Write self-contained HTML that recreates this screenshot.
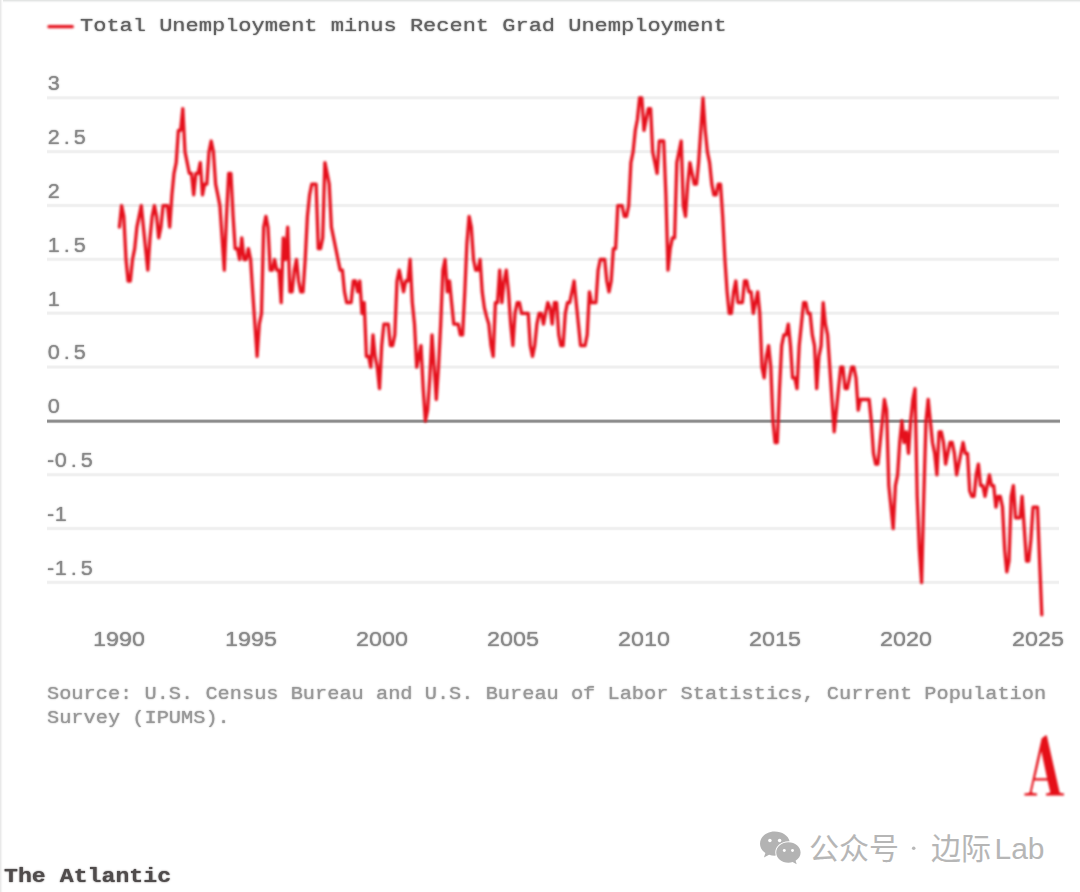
<!DOCTYPE html>
<html><head><meta charset="utf-8"><title>Chart</title>
<style>
html,body{margin:0;padding:0;background:#fff}
body{width:1080px;height:892px;position:relative;overflow:hidden;font-family:"Liberation Mono",monospace}
.bt{position:absolute;left:0;top:0;width:1080px;height:3px;background:linear-gradient(#e3e5e4 0 33.3%,#f1f2f2 33.3% 66.6%,#fcfcfc 66.6% 100%)}
.bl{position:absolute;left:0;top:0;width:3px;height:892px;background:linear-gradient(90deg,#e9e9e9 0 33.3%,#f4f4f4 33.3% 66.6%,#fdfdfd 66.6% 100%)}
.g{position:absolute;left:47px;width:1012px}
.z{position:absolute;left:47px;width:1012.5px}
.lt{position:absolute;left:79.8px;top:13.9px;font-size:18.9px;line-height:25px;color:#626262;text-shadow:0 0 1.5px #555;white-space:nowrap;transform:scaleX(1.164);transform-origin:0 0}
.yl{position:absolute;left:46.6px;height:20px;font-family:"Liberation Sans",sans-serif;font-size:20px;line-height:20px;color:#8a8a8a;text-shadow:0 0 1.5px #777}
.yl .c{position:absolute;top:0;display:block;text-align:center;transform:scaleX(1.08)}
.xl{position:absolute;top:627px;width:80px;text-align:center;font-family:"Liberation Sans",sans-serif;font-size:19.6px;line-height:24px;color:#8a8a8a;text-shadow:0 0 1.5px #777;transform:scaleX(1.19)}
.src{position:absolute;left:47.3px;top:681.5px;font-size:18px;line-height:24px;color:#999;text-shadow:0 0 1.5px #8a8a8a;white-space:nowrap;transform:scaleX(1.128);transform-origin:0 0}
.ta{position:absolute;left:4.4px;top:863.8px;font-size:20.5px;line-height:26px;font-weight:bold;color:#504c4c;text-shadow:0 0 1.5px #4b4747;white-space:nowrap;transform:scaleX(1.132);transform-origin:0 0}
svg{position:absolute;left:0;top:0;filter:blur(1px)}
svg.wm{filter:none}
</style></head>
<body>
<div class="bt"></div><div class="bl"></div>
<div class="g" style="top:95px;height:6px;background:linear-gradient(#fefefe 0.000% 16.667%,#f4f4f4 16.667% 33.333%,#efefef 33.333% 50.000%,#f0f0f0 50.000% 66.667%,#f9f9f9 66.667% 83.333%,#ffffff 83.333% 100.000%)"></div>
<div class="g" style="top:149px;height:5px;background:linear-gradient(#fdfdfd 0.000% 20.000%,#f2f2f2 20.000% 40.000%,#efefef 40.000% 60.000%,#f0f0f0 60.000% 80.000%,#fbfbfb 80.000% 100.000%)"></div>
<div class="g" style="top:203px;height:5px;background:linear-gradient(#fcfcfc 0.000% 20.000%,#f1f1f1 20.000% 40.000%,#efefef 40.000% 60.000%,#f1f1f1 60.000% 80.000%,#fcfcfc 80.000% 100.000%)"></div>
<div class="g" style="top:257px;height:5px;background:linear-gradient(#fafafa 0.000% 20.000%,#f0f0f0 20.000% 40.000%,#efefef 40.000% 60.000%,#f3f3f3 60.000% 80.000%,#fdfdfd 80.000% 100.000%)"></div>
<div class="g" style="top:310px;height:6px;background:linear-gradient(#ffffff 0.000% 16.667%,#f8f8f8 16.667% 33.333%,#efefef 33.333% 50.000%,#efefef 50.000% 66.667%,#f4f4f4 66.667% 83.333%,#fefefe 83.333% 100.000%)"></div>
<div class="g" style="top:364px;height:6px;background:linear-gradient(#ffffff 0.000% 16.667%,#f7f7f7 16.667% 33.333%,#efefef 33.333% 50.000%,#efefef 50.000% 66.667%,#f6f6f6 66.667% 83.333%,#ffffff 83.333% 100.000%)"></div>
<div class="g" style="top:472px;height:5px;background:linear-gradient(#fdfdfd 0.000% 20.000%,#f3f3f3 20.000% 40.000%,#efefef 40.000% 60.000%,#f0f0f0 60.000% 80.000%,#fafafa 80.000% 100.000%)"></div>
<div class="g" style="top:526px;height:5px;background:linear-gradient(#fcfcfc 0.000% 20.000%,#f1f1f1 20.000% 40.000%,#efefef 40.000% 60.000%,#f1f1f1 60.000% 80.000%,#fcfcfc 80.000% 100.000%)"></div>
<div class="g" style="top:580px;height:5px;background:linear-gradient(#fbfbfb 0.000% 20.000%,#f0f0f0 20.000% 40.000%,#efefef 40.000% 60.000%,#f2f2f2 60.000% 80.000%,#fdfdfd 80.000% 100.000%)"></div>
<div class="z" style="top:418px;height:6px;background:linear-gradient(#ffffff 0.000% 16.667%,#d1d1d1 16.667% 33.333%,#909090 33.333% 50.000%,#8b8b8b 50.000% 66.667%,#b0b0b0 66.667% 83.333%,#f7f7f7 83.333% 100.000%)"></div>

<div class="yl" style="top:73.2px"><span class="c" style="left:0.0px;width:13.4px">3</span></div>
<div class="yl" style="top:127.0px"><span class="c" style="left:0.0px;width:13.4px">2</span><span class="c" style="left:13.4px;width:13.4px">.</span><span class="c" style="left:26.8px;width:13.4px">5</span></div>
<div class="yl" style="top:180.8px"><span class="c" style="left:0.0px;width:13.4px">2</span></div>
<div class="yl" style="top:234.7px"><span class="c" style="left:0.0px;width:13.4px">1</span><span class="c" style="left:13.4px;width:13.4px">.</span><span class="c" style="left:26.8px;width:13.4px">5</span></div>
<div class="yl" style="top:288.5px"><span class="c" style="left:0.0px;width:13.4px">1</span></div>
<div class="yl" style="top:342.4px"><span class="c" style="left:0.0px;width:13.4px">0</span><span class="c" style="left:13.4px;width:13.4px">.</span><span class="c" style="left:26.8px;width:13.4px">5</span></div>
<div class="yl" style="top:396.2px"><span class="c" style="left:0.0px;width:13.4px">0</span></div>
<div class="yl" style="top:450.0px"><span class="c" style="left:0.0px;width:7px">-</span><span class="c" style="left:7.0px;width:13.4px">0</span><span class="c" style="left:20.4px;width:13.4px">.</span><span class="c" style="left:33.8px;width:13.4px">5</span></div>
<div class="yl" style="top:503.9px"><span class="c" style="left:0.0px;width:7px">-</span><span class="c" style="left:7.0px;width:13.4px">1</span></div>
<div class="yl" style="top:557.7px"><span class="c" style="left:0.0px;width:7px">-</span><span class="c" style="left:7.0px;width:13.4px">1</span><span class="c" style="left:20.4px;width:13.4px">.</span><span class="c" style="left:33.8px;width:13.4px">5</span></div>
<div class="xl" style="left:79.4px">1990</div>
<div class="xl" style="left:210.6px">1995</div>
<div class="xl" style="left:341.7px">2000</div>
<div class="xl" style="left:472.9px">2005</div>
<div class="xl" style="left:604.0px">2010</div>
<div class="xl" style="left:735.1px">2015</div>
<div class="xl" style="left:866.3px">2020</div>
<div class="xl" style="left:997.5px">2025</div>

<div class="lt">Total Unemployment minus Recent Grad Unemployment</div>
<svg width="1080" height="892" viewBox="0 0 1080 892">
<line x1="49" y1="26.7" x2="72.3" y2="26.7" stroke="#e5101c" stroke-width="3.3" stroke-linecap="round"/>
<polyline fill="none" stroke="#e5101c" stroke-width="3.3" stroke-linejoin="round" stroke-linecap="round" points="119.4,227.2 121.6,205.6 123.8,216.4 126.0,259.5 128.1,281.0 130.3,281.0 132.5,259.5 134.7,248.7 136.9,227.2 139.1,216.4 141.3,205.6 143.4,227.2 145.6,248.7 147.8,270.2 150.0,237.9 152.2,216.4 154.4,205.6 156.6,216.4 158.7,237.9 160.9,227.2 163.1,205.6 165.3,205.6 167.5,205.6 169.7,227.2 171.9,194.9 174.0,173.3 176.2,162.6 178.4,130.3 180.6,130.3 182.8,108.7 185.0,151.8 187.2,162.6 189.3,173.3 191.5,173.3 193.7,194.9 195.9,173.3 198.1,173.3 200.3,162.6 202.5,194.9 204.6,184.1 206.8,184.1 209.0,151.8 211.2,141.0 213.4,151.8 215.6,184.1 217.8,194.9 219.9,205.6 222.1,237.9 224.3,270.2 226.5,216.4 228.7,173.3 230.9,173.3 233.1,216.4 235.2,248.7 237.4,248.7 239.6,259.5 241.8,237.9 244.0,259.5 246.2,259.5 248.4,248.7 250.6,259.5 252.7,291.8 254.9,324.1 257.1,356.4 259.3,324.1 261.5,313.3 263.7,227.2 265.9,216.4 268.0,227.2 270.2,270.2 272.4,270.2 274.6,259.5 276.8,270.2 279.0,270.2 281.2,302.6 283.3,237.9 285.5,259.5 287.7,227.2 289.9,291.8 292.1,291.8 294.3,270.2 296.5,259.5 298.6,281.0 300.8,291.8 303.0,291.8 305.2,259.5 307.4,216.4 309.6,194.9 311.8,184.1 313.9,184.1 316.1,184.1 318.3,248.7 320.5,248.7 322.7,237.9 324.9,162.6 327.1,173.3 329.2,184.1 331.4,227.2 333.6,237.9 335.8,248.7 338.0,259.5 340.2,270.2 342.4,270.2 344.5,291.8 346.7,302.6 348.9,302.6 351.1,302.6 353.3,281.0 355.5,281.0 357.7,291.8 359.8,281.0 362.0,313.3 364.2,302.6 366.4,356.4 368.6,356.4 370.8,367.2 373.0,334.9 375.1,356.4 377.3,367.2 379.5,388.7 381.7,345.6 383.9,324.1 386.1,324.1 388.3,324.1 390.4,345.6 392.6,345.6 394.8,334.9 397.0,281.0 399.2,270.2 401.4,281.0 403.6,291.8 405.7,281.0 407.9,281.0 410.1,259.5 412.3,302.6 414.5,324.1 416.7,367.2 418.9,356.4 421.0,345.6 423.2,388.7 425.4,421.0 427.6,410.2 429.8,377.9 432.0,334.9 434.2,367.2 436.3,399.5 438.5,367.2 440.7,324.1 442.9,270.2 445.1,259.5 447.3,291.8 449.5,281.0 451.6,302.6 453.8,324.1 456.0,324.1 458.2,324.1 460.4,334.9 462.6,334.9 464.8,291.8 466.9,243.3 469.1,216.4 471.3,227.2 473.5,259.5 475.7,270.2 477.9,270.2 480.1,259.5 482.2,291.8 484.4,307.9 486.6,316.6 488.8,324.1 491.0,345.6 493.2,356.4 495.4,302.6 497.5,302.6 499.7,270.2 501.9,302.6 504.1,281.0 506.3,270.2 508.5,291.8 510.7,324.1 512.9,345.6 515.0,313.3 517.2,302.6 519.4,302.6 521.6,313.3 523.8,313.3 526.0,313.3 528.2,313.3 530.3,345.6 532.5,356.4 534.7,345.6 536.9,324.1 539.1,313.3 541.3,313.3 543.5,324.1 545.6,313.3 547.8,302.6 550.0,307.9 552.2,324.1 554.4,302.6 556.6,302.6 558.8,334.9 560.9,345.6 563.1,345.6 565.3,313.3 567.5,302.6 569.7,302.6 571.9,291.8 574.1,281.0 576.2,302.6 578.4,324.1 580.6,345.6 582.8,345.6 585.0,345.6 587.2,334.9 589.4,291.8 591.5,302.6 593.7,302.6 595.9,302.6 598.1,270.2 600.3,259.5 602.5,259.5 604.7,259.5 606.8,281.0 609.0,291.8 611.2,281.0 613.4,248.7 615.6,248.7 617.8,205.6 620.0,205.6 622.1,205.6 624.3,216.4 626.5,216.4 628.7,205.6 630.9,162.6 633.1,151.8 635.3,130.3 637.4,119.5 639.6,98.0 641.8,98.0 644.0,130.3 646.2,119.5 648.4,108.7 650.6,108.7 652.7,151.8 654.9,162.6 657.1,173.3 659.3,141.0 661.5,141.0 663.7,141.0 665.9,194.9 668.0,270.2 670.2,248.7 672.4,237.9 674.6,237.9 676.8,162.6 679.0,151.8 681.2,141.0 683.3,205.6 685.5,216.4 687.7,184.1 689.9,162.6 692.1,173.3 694.3,184.1 696.5,184.1 698.6,162.6 700.8,130.3 703.0,98.0 705.2,130.3 707.4,151.8 709.6,162.6 711.8,184.1 713.9,194.9 716.1,194.9 718.3,184.1 720.5,184.1 722.7,216.4 724.9,259.5 727.1,291.8 729.2,313.3 731.4,313.3 733.6,291.8 735.8,281.0 738.0,302.6 740.2,302.6 742.4,302.6 744.5,281.0 746.7,281.0 748.9,291.8 751.1,291.8 753.3,313.3 755.5,302.6 757.7,291.8 759.8,313.3 762.0,367.2 764.2,377.9 766.4,356.4 768.6,345.6 770.8,367.2 773.0,421.0 775.1,442.5 777.3,442.5 779.5,388.7 781.7,345.6 783.9,334.9 786.1,334.9 788.3,324.1 790.5,345.6 792.6,377.9 794.8,377.9 797.0,388.7 799.2,345.6 801.4,324.1 803.6,302.6 805.8,302.6 807.9,313.3 810.1,313.3 812.3,334.9 814.5,345.6 816.7,388.7 818.9,356.4 821.1,345.6 823.2,302.6 825.4,324.1 827.6,334.9 829.8,367.2 832.0,399.5 834.2,431.8 836.4,410.2 838.5,388.7 840.7,367.2 842.9,367.2 845.1,388.7 847.3,388.7 849.5,377.9 851.7,367.2 853.8,367.2 856.0,377.9 858.2,410.2 860.4,399.5 862.6,399.5 864.8,399.5 867.0,399.5 869.1,399.5 871.3,421.0 873.5,453.3 875.7,464.1 877.9,464.1 880.1,442.5 882.3,421.0 884.4,399.5 886.6,410.2 888.8,485.6 891.0,507.1 893.2,528.7 895.4,485.6 897.6,474.8 899.7,442.5 901.9,421.0 904.1,442.5 906.3,431.8 908.5,453.3 910.7,421.0 912.9,399.5 915.0,388.7 917.2,496.4 919.4,550.2 921.6,582.5 923.8,496.4 926.0,421.0 928.2,399.5 930.3,421.0 932.5,442.5 934.7,453.3 936.9,474.8 939.1,431.8 941.3,431.8 943.5,442.5 945.6,464.1 947.8,453.3 950.0,442.5 952.2,442.5 954.4,453.3 956.6,474.8 958.8,464.1 960.9,453.3 963.1,442.5 965.3,453.3 967.5,453.3 969.7,491.0 971.9,496.4 974.1,496.4 976.2,474.8 978.4,464.1 980.6,485.6 982.8,485.6 985.0,496.4 987.2,485.6 989.4,474.8 991.5,485.6 993.7,485.6 995.9,507.1 998.1,496.4 1000.3,496.4 1002.5,507.1 1004.7,550.2 1006.8,571.8 1009.0,561.0 1011.2,496.4 1013.4,485.6 1015.6,517.9 1017.8,517.9 1020.0,517.9 1022.1,496.4 1024.3,528.7 1026.5,561.0 1028.7,561.0 1030.9,539.4 1033.1,507.1 1035.3,507.1 1037.5,507.1 1039.6,561.0 1041.8,614.8"/>
<!-- Atlantic "A" mark -->
<g fill="#e50f18">
<path d="M1045.4 735.6 L1041.6 738.6 L1029.6 792.4 L1028.2 792.9 L1024.4 793.4 L1024.4 795.6 L1037 795.6 L1037 793.4 L1033.2 792.9 L1031.7 792.2 L1034.3 780.5 L1047.5 780.5 L1050.3 792.3 L1049 792.9 L1046 793.4 L1046 795.6 L1064 795.6 L1064 793.4 L1060.6 792.9 L1059.6 792.2 L1046.8 735.6 Z M1035.1 778.3 L1041.3 751.2 L1047.1 778.3 Z"/>
</g>
</svg>
<svg class="wm" width="1080" height="892" viewBox="0 0 1080 892">
<g fill="#b3b3b3" transform="translate(0 1) translate(780 846) scale(1 1.02) translate(-780 -846)">
<path d="M774.6 830.8c-8.1 0-14.6 5.3-14.6 11.9 0 3.7 2.1 7 5.4 9.2l-1.5 4.3 5.2-2.6c1.7.5 3.6.9 5.5.9.4 0 .8 0 1.200-.05-.3-1-.5-2.100-.5-3.200 0-6.100 5.900-11 13.100-11 .4 0 .8 0 1.200.05C788.300 834.800 782.100 830.800 774.600 830.800z"/>
<path d="M800.6 851.400c0-5.500-5.500-10-12.200-10s-12.200 4.500-12.200 10 5.500 10 12.200 10c1.500 0 2.900-.2 4.200-.6l4.100 2.200-1.100-3.600c3-1.800 5-4.700 5-8z"/>
</g>
<g fill="#fff" transform="translate(0 1)"><circle cx="769.900" cy="839.600" r="1.750"/><circle cx="779.600" cy="839.600" r="1.750"/><circle cx="784.300" cy="849.500" r="1.450"/><circle cx="792.500" cy="849.500" r="1.450"/></g>
<text x="809" y="858.7" font-size="30" fill="#b6b6b6" font-family='"Liberation Sans", "Noto Sans CJK SC", sans-serif'>公众号</text>
<text x="931" y="858.7" font-size="30" fill="#b6b6b6" font-family='"Liberation Sans", "Noto Sans CJK SC", sans-serif'>边际</text>
<text x="994.5" y="858.7" font-size="30" fill="#b6b6b6" font-family='"Liberation Sans", "Noto Sans CJK SC", sans-serif'>Lab</text>
<circle cx="913.7" cy="848.2" r="1.8" fill="#b8b8b8"/>

</svg>
<div class="src">Source: U.S. Census Bureau and U.S. Bureau of Labor Statistics, Current Population<br>Survey (IPUMS).</div>
<div class="ta">The Atlantic</div>
</body></html>
